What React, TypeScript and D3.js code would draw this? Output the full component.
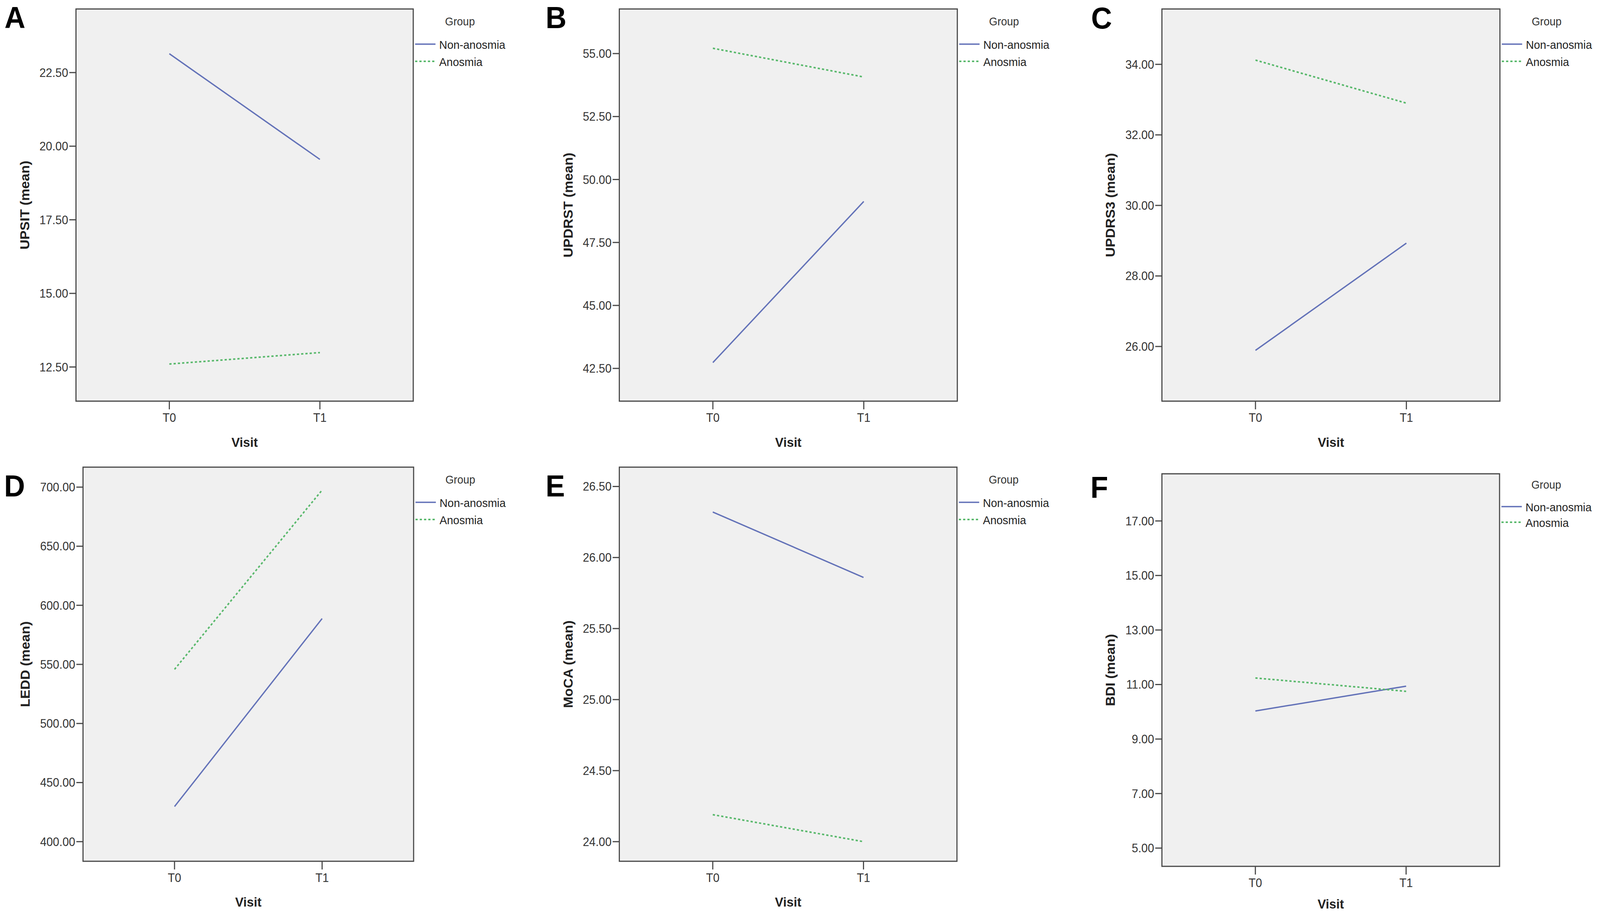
import React from "react";
import * as d3 from "d3";

const visits = ["T0", "T1"];
const groupNames = ["Non-anosmia", "Anosmia"];
const panelLetters = ["A", "B", "C", "D", "E", "F"];
const yTitles = ["UPSIT (mean)", "UPDRST (mean)", "UPDRS3 (mean)", "LEDD (mean)", "MoCA (mean)", "BDI (mean)"];

// Means (T0, T1)
const upsitNonAnosmia = [23.14, 19.55];
const upsitAnosmia = [12.6, 12.99];
const updrstNonAnosmia = [42.73, 49.13];
const updrstAnosmia = [55.21, 54.07];
const updrs3NonAnosmia = [25.89, 28.93];
const updrs3Anosmia = [34.12, 32.9];
const leddNonAnosmia = [429.7, 588.8];
const leddAnosmia = [545.8, 697.5];
const mocaNonAnosmia = [26.32, 25.86];
const mocaAnosmia = [24.19, 24.0];
const bdiNonAnosmia = [10.03, 10.94];
const bdiAnosmia = [11.24, 10.75];

// Axis ticks
const upsitTicks = [12.5, 15, 17.5, 20, 22.5];
const updrstTicks = [42.5, 45, 47.5, 50, 52.5, 55];
const updrs3Ticks = [26, 28, 30, 32, 34];
const leddTicks = [400, 450, 500, 550, 600, 650, 700];
const mocaTicks = [24, 24.5, 25, 25.5, 26, 26.5];
const bdiTicks = [5, 7, 9, 11, 13, 15, 17];

// Axis ranges
const upsitDomain = [11.34, 24.66];
const updrstDomain = [41.2, 56.77];
const updrs3Domain = [24.45, 35.57];
const leddDomain = [383.4, 716.9];
const mocaDomain = [23.862, 26.636];
const bdiDomain = [4.33, 18.73];

const nonSeries = [upsitNonAnosmia, updrstNonAnosmia, updrs3NonAnosmia, leddNonAnosmia, mocaNonAnosmia, bdiNonAnosmia];
const anosSeries = [upsitAnosmia, updrstAnosmia, updrs3Anosmia, leddAnosmia, mocaAnosmia, bdiAnosmia];
const tickSets = [upsitTicks, updrstTicks, updrs3Ticks, leddTicks, mocaTicks, bdiTicks];
const domains = [upsitDomain, updrstDomain, updrs3Domain, leddDomain, mocaDomain, bdiDomain];

// Layout (pixel geometry)
const layout = [
  { x0: 205, x1: 1115, y0: 23, y1: 1027, lx: 12, ly: 72, tb: 79, vy: 117, leg: [42, 90, 134] },
  { x0: 1671, x1: 2583, y0: 23, y1: 1027, lx: 1472, ly: 72, tb: 1545, vy: 117, leg: [42, 90, 134] },
  { x0: 3135, x1: 4047, y0: 23, y1: 1027, lx: 2944, ly: 73, tb: 3008, vy: 117, leg: [42, 90, 134] },
  { x0: 224, x1: 1116, y0: 1196, y1: 2205, lx: 11, ly: 1271, tb: 80, vy: 116, leg: [42, 90, 134] },
  { x0: 1671, x1: 2582, y0: 1196, y1: 2205, lx: 1472, ly: 1271, tb: 1545, vy: 116, leg: [42, 90, 134] },
  { x0: 3135, x1: 4046, y0: 1213, y1: 2218, lx: 2942, ly: 1275, tb: 3008, vy: 108, leg: [38, 84, 124] },
];

const W = 4317;
const H = 2340;
const BLUE = "#6372b8";
const GREEN = "#58b86b";
const AXIS = "#474747";
const FONT = "'Liberation Sans', Arial, Helvetica, sans-serif";
const fmt = d3.format(".2f");

function Panel({ i }: { i: number }) {
  const L = layout[i];
  const x = d3.scalePoint<string>().domain(visits).range([L.x0, L.x1]).padding(0.62);
  const y = d3.scaleLinear().domain(domains[i]).range([L.y1, L.y0]);
  const line = d3
    .line<number>()
    .x((_, k) => x(visits[k]) as number)
    .y((d) => y(d));
  const cx = (L.x0 + L.x1) / 2;
  const cy = (L.y0 + L.y1) / 2;
  return (
    <g>
      <text x={L.lx} y={L.ly} fontFamily={FONT} fontWeight="bold" fontSize={78} fill="#000">
        {panelLetters[i]}
      </text>
      <rect x={L.x0} y={L.y0} width={L.x1 - L.x0} height={L.y1 - L.y0} fill="#f0f0f0" stroke={AXIS} strokeWidth={3} />
      {tickSets[i].map((t) => (
        <g key={t}>
          <line x1={L.x0 - 18} x2={L.x0} y1={y(t)} y2={y(t)} stroke={AXIS} strokeWidth={3} />
          <text x={L.x0 - 21} y={y(t) + 11} textAnchor="end" fontFamily={FONT} fontSize={31} fill="#333">
            {fmt(t)}
          </text>
        </g>
      ))}
      {visits.map((v) => (
        <g key={v}>
          <line x1={x(v)} x2={x(v)} y1={L.y1} y2={L.y1 + 21} stroke={AXIS} strokeWidth={3} />
          <text x={x(v)} y={L.y1 + 53} textAnchor="middle" fontFamily={FONT} fontSize={31} fill="#333">
            {v}
          </text>
        </g>
      ))}
      <text x={cx} y={L.y1 + L.vy} textAnchor="middle" fontFamily={FONT} fontWeight="bold" fontSize={34} fill="#222">
        Visit
      </text>
      <text
        transform={`translate(${L.tb},${cy}) rotate(-90)`}
        textAnchor="middle"
        fontFamily={FONT}
        fontWeight="bold"
        fontSize={35}
        fill="#222"
      >
        {yTitles[i]}
      </text>
      <path d={line(nonSeries[i]) as string} fill="none" stroke={BLUE} strokeWidth={3.5} />
      <path d={line(anosSeries[i]) as string} fill="none" stroke={GREEN} strokeWidth={4} strokeDasharray="6 5.5" />
      <text x={L.x1 + 126} y={L.y0 + L.leg[0]} textAnchor="middle" fontFamily={FONT} fontSize={29} fill="#333">
        Group
      </text>
      <line x1={L.x1 + 5} x2={L.x1 + 60} y1={L.y0 + L.leg[1]} y2={L.y0 + L.leg[1]} stroke={BLUE} strokeWidth={3.5} />
      <text x={L.x1 + 70} y={L.y0 + L.leg[1] + 12} fontFamily={FONT} fontSize={30} fill="#222">
        {groupNames[0]}
      </text>
      <line
        x1={L.x1 + 5}
        x2={L.x1 + 60}
        y1={L.y0 + L.leg[2]}
        y2={L.y0 + L.leg[2]}
        stroke={GREEN}
        strokeWidth={4}
        strokeDasharray="6 5.5"
      />
      <text x={L.x1 + 70} y={L.y0 + L.leg[2] + 12} fontFamily={FONT} fontSize={30} fill="#222">
        {groupNames[1]}
      </text>
    </g>
  );
}

export default function App() {
  return (
    <svg
      viewBox={`0 0 ${W} ${H}`}
      preserveAspectRatio="none"
      style={{ position: "fixed", left: 0, top: 0, width: "100%", height: "100%", display: "block", background: "#fff" }}
    >
      <rect x={0} y={0} width={W} height={H} fill="#fff" />
      {panelLetters.map((_, i) => (
        <Panel key={i} i={i} />
      ))}
    </svg>
  );
}
